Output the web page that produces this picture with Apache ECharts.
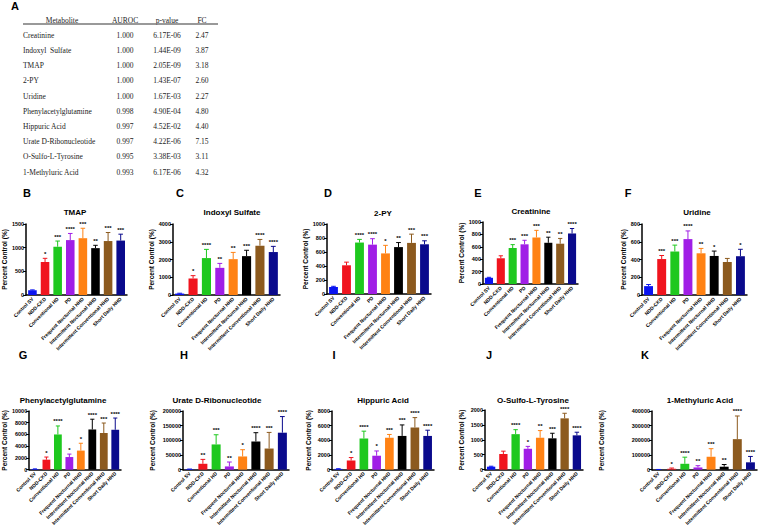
<!DOCTYPE html>
<html>
<head>
<meta charset="utf-8">
<script src="https://cdn.jsdelivr.net/npm/echarts@6/dist/echarts.min.js"></script>
<style>
  html, body { margin: 0; padding: 0; background: #fff; }
  #chart { width: 758px; height: 528px; }
</style>
</head>
<body>
<div id="chart"></div>
<script>
// ====== data ======
const groups = ['Control SV', 'NDD-CKD', 'Conventional HD', 'PD', 'Frequent Nocturnal HHD',
  'Intermittent Nocturnal HHD', 'Intermittent Conventional HHD', 'Short Daily HHD'];

const tableHead   = ['Metabolite', 'AUROC', 'p-value', 'FC'];
const tableNames  = ['Creatinine', 'Indoxyl  Sulfate', 'TMAP', '2-PY', 'Uridine', 'Phenylacetylglutamine',
  'Hippuric Acid', 'Urate D-Ribonucleotide', 'O-Sulfo-L-Tyrosine', '1-Methyluric Acid'];
const tableAuroc  = ['1.000', '1.000', '1.000', '1.000', '1.000', '0.998', '0.997', '0.997', '0.995', '0.993'];
const tablePval   = ['6.17E-06', '1.44E-09', '2.05E-09', '1.43E-07', '1.67E-03', '4.90E-04', '4.52E-02', '4.22E-06', '3.38E-03', '6.17E-06'];
const tableFc     = ['2.47', '3.87', '3.18', '2.60', '2.27', '4.80', '4.40', '7.15', '3.11', '4.32'];

// mean, SD (upper error only) and significance per group
const tmapMean = [100, 695, 1020, 1160, 1200, 990, 1140, 1150];
const tmapSd   = [8, 80, 120, 140, 210, 60, 180, 135];
const tmapSig  = ['', '*', '***', '****', '***', '**', '***', '***'];

const indoxylMean = [80, 930, 2080, 1530, 2020, 2190, 2780, 2420];
const indoxylSd   = [20, 160, 490, 250, 380, 330, 350, 320];
const indoxylSig  = ['', '*', '****', '**', '**', '***', '****', '****'];

const pyMean = [100, 410, 735, 705, 580, 670, 730, 710];
const pySd   = [10, 45, 45, 85, 115, 65, 125, 50];
const pySig  = ['', '', '****', '****', '*', '**', '***', '***'];

const creatMean = [100, 415, 580, 640, 750, 665, 650, 815];
const creatSd   = [8, 40, 55, 65, 115, 90, 85, 80];
const creatSig  = ['', '', '***', '***', '***', '**', '**', '****'];

const uridineMean = [100, 405, 490, 630, 470, 440, 372, 437];
const uridineSd   = [18, 40, 72, 92, 55, 55, 40, 78];
const uridineSig  = ['', '***', '***', '****', '**', '*', '', '*'];

const phenylMean = [100, 1700, 6000, 2150, 3250, 6850, 6250, 6800];
const phenylSd   = [30, 450, 1450, 500, 1250, 1750, 1700, 2000];
const phenylSig  = ['', '*', '****', '*', '*', '****', '***', '****'];

const urateMean = [1500, 20000, 86000, 11000, 45000, 96000, 72000, 126000];
const urateSd   = [500, 15000, 33000, 15000, 23000, 30000, 55000, 55000];
const urateSig  = ['', '**', '***', '**', '*', '****', '***', '****'];

const hippuricMean = [100, 1250, 4250, 1900, 4350, 4600, 5750, 4600];
const hippuricSd   = [30, 400, 1000, 650, 450, 1500, 1350, 780];
const hippuricSig  = ['', '*', '****', '*', '***', '***', '****', '****'];

const sulfoMean = [100, 525, 1190, 700, 1070, 1050, 1720, 1150];
const sulfoSd   = [15, 95, 150, 80, 240, 170, 170, 105];
const sulfoSig  = ['', '', '****', '*', '**', '***', '****', '****'];

const methylMean = [800, 6000, 40000, 15000, 88000, 20000, 208000, 50000];
const methylSd   = [500, 5000, 45000, 12000, 55000, 15000, 158000, 40000];
const methylSig  = ['', '*', '****', '**', '***', '**', '****', '****'];

// ====== styles / layout ======
const groupColors = ['#0a14f0', '#f0141e', '#1ec81e', '#a01ee6', '#ff8214', '#000000', '#8c5a1e', '#0a0a8c'];
const SANS = 'Liberation Sans, Arial, sans-serif';
const SERIF = 'Liberation Serif, Times New Roman, serif';

const panels = [
  { letter: 'B', title: 'TMAP', mean: tmapMean, sd: tmapSd, sig: tmapSig, max: 1500, step: 500 },
  { letter: 'C', title: 'Indoxyl Sulfate', mean: indoxylMean, sd: indoxylSd, sig: indoxylSig, max: 4000, step: 1000 },
  { letter: 'D', title: '2-PY', mean: pyMean, sd: pySd, sig: pySig, max: 1000, step: 200 },
  { letter: 'E', title: 'Creatinine', mean: creatMean, sd: creatSd, sig: creatSig, max: 1000, step: 200 },
  { letter: 'F', title: 'Uridine', mean: uridineMean, sd: uridineSd, sig: uridineSig, max: 800, step: 200 },
  { letter: 'G', title: 'Phenylacetylglutamine', mean: phenylMean, sd: phenylSd, sig: phenylSig, max: 10000, step: 2000 },
  { letter: 'H', title: 'Urate D-Ribonucleotide', mean: urateMean, sd: urateSd, sig: urateSig, max: 200000, step: 50000 },
  { letter: 'I', title: 'Hippuric Acid', mean: hippuricMean, sd: hippuricSd, sig: hippuricSig, max: 8000, step: 2000 },
  { letter: 'J', title: 'O-Sulfo-L-Tyrosine', mean: sulfoMean, sd: sulfoSd, sig: sulfoSig, max: 2000, step: 500 },
  { letter: 'K', title: '1-Methyluric Acid', mean: methylMean, sd: methylSd, sig: methylSig, max: 400000, step: 100000 },
];

// grid box, y-name gap, title centre, panel letter
const boxes = [
  { left: 22,  top: 224, width: 105, height: 71, gap: 17, tx: 75,  ty: 212, lx: 27,  ly: 193 },
  { left: 173, top: 224, width: 107, height: 71, gap: 17, tx: 232, ty: 212, lx: 180, ly: 193 },
  { left: 327, top: 224, width: 104, height: 70, gap: 17, tx: 383, ty: 213, lx: 328, ly: 193 },
  { left: 483, top: 222, width: 95,  height: 62, gap: 17, tx: 531, ty: 211, lx: 478, ly: 193 },
  { left: 642, top: 224, width: 105, height: 71, gap: 15, tx: 697, ty: 212, lx: 628, ly: 193 },
  { left: 21,  top: 411, width: 100, height: 67, gap: 18, tx: 63,  ty: 400, lx: 23,  ly: 355 },
  { left: 183, top: 411, width: 106, height: 73, gap: 27, tx: 217, ty: 400, lx: 184, ly: 355 },
  { left: 332, top: 411, width: 102, height: 68, gap: 20, tx: 383, ty: 400, lx: 334, ly: 355 },
  { left: 485, top: 410, width: 98,  height: 64, gap: 20, tx: 533, ty: 400, lx: 489, ly: 355 },
  { left: 652, top: 411, width: 105, height: 73, gap: 47, tx: 700, ty: 400, lx: 645, ly: 355 },
];

const grids = [], xAxes = [], yAxes = [], series = [], texts = [];

panels.forEach((p, i) => {
  const b = boxes[i];
  grids.push({ left: b.left, top: b.top, width: b.width, height: b.height });
  xAxes.push({
    gridIndex: i, type: 'category', data: groups,
    axisLine: { lineStyle: { color: '#000', width: 1.5 } },
    axisTick: { alignWithLabel: true, length: 2, lineStyle: { color: '#000', width: 1 } },
    axisLabel: { interval: 0, rotate: 45, fontSize: 5, fontWeight: 'bold', color: '#000', margin: 3, fontFamily: SANS },
  });
  yAxes.push({
    gridIndex: i, type: 'value', min: 0, max: p.max, interval: p.step,
    name: 'Percent Control (%)', nameLocation: 'middle', nameGap: b.gap,
    nameTextStyle: { fontSize: 6.5, fontWeight: 'bold', color: '#000', fontFamily: SANS },
    axisLine: { show: true, lineStyle: { color: '#000', width: 1.5 } },
    axisTick: { show: true, length: 3, lineStyle: { color: '#000', width: 1 } },
    splitLine: { show: false },
    axisLabel: { fontSize: 5.5, fontWeight: 'bold', color: '#000', margin: 2, fontFamily: SANS, formatter: (v) => String(v) },
  });
  series.push({
    type: 'bar', xAxisIndex: i, yAxisIndex: i, barWidth: '68%', silent: true,
    data: p.mean.map((v, k) => ({ value: v, itemStyle: { color: groupColors[k] } })),
  });
  series.push({
    type: 'custom', xAxisIndex: i, yAxisIndex: i, z: 5, clip: false, silent: true,
    data: p.mean.map((v, k) => [k, v, v + p.sd[k]]),
    renderItem: (params, api) => {
      const k = api.value(0);
      const base = api.coord([k, api.value(1)]);
      const top = api.coord([k, api.value(2)]);
      const half = api.size([1, 0])[0] * 0.18;
      const c = groupColors[k];
      return {
        type: 'group',
        children: [
          { type: 'line', shape: { x1: top[0], y1: base[1], x2: top[0], y2: top[1] }, style: { stroke: c, lineWidth: 1 } },
          { type: 'line', shape: { x1: top[0] - half, y1: top[1], x2: top[0] + half, y2: top[1] }, style: { stroke: c, lineWidth: 1 } },
          { type: 'text', x: top[0], y: top[1] - 1.5,
            style: { text: p.sig[k], fill: '#000', fontSize: 6, fontWeight: 'bold', fontFamily: SANS, align: 'center', verticalAlign: 'bottom' } },
        ],
      };
    },
  });
  texts.push({ type: 'text', x: b.tx, y: b.ty,
    style: { text: p.title, fill: '#000', fontSize: 8, fontWeight: 'bold', fontFamily: SANS, align: 'center', verticalAlign: 'middle' } });
  texts.push({ type: 'text', x: b.lx, y: b.ly,
    style: { text: p.letter, fill: '#000', fontSize: 11, fontWeight: 'bold', fontFamily: SANS, align: 'center', verticalAlign: 'middle' } });
});

// ====== table (panel A) ======
const colX = [23, 125, 167, 202];
const headY = 20;
const rowY = [35, 50, 65, 80, 96, 111, 126, 141, 156, 172];
texts.push({ type: 'text', x: 15, y: 6,
  style: { text: 'A', fill: '#000', fontSize: 11, fontWeight: 'bold', fontFamily: SANS, align: 'center', verticalAlign: 'middle' } });
tableHead.forEach((h, c) => {
  texts.push({ type: 'text', x: c === 0 ? 62 : colX[c], y: headY,
    style: { text: h, fill: '#222', fontSize: 7.5, fontFamily: SERIF, align: 'center', verticalAlign: 'middle' } });
});
texts.push({ type: 'line', shape: { x1: 23, y1: 24, x2: 218, y2: 24 }, style: { stroke: '#777', lineWidth: 1.5 } });
tableNames.forEach((n, r) => {
  const cells = [n, tableAuroc[r], tablePval[r], tableFc[r]];
  cells.forEach((t, c) => {
    texts.push({ type: 'text', x: colX[c], y: rowY[r],
      style: { text: t, fill: '#222', fontSize: 7.5, fontFamily: SERIF, align: c === 0 ? 'left' : 'center', verticalAlign: 'middle' } });
  });
});

const chart = echarts.init(document.getElementById('chart'), null, { renderer: 'svg' });
chart.setOption({
  animation: false,
  backgroundColor: '#fff',
  grid: grids,
  xAxis: xAxes,
  yAxis: yAxes,
  series,
  graphic: { elements: texts },
});
</script>
</body>
</html>
